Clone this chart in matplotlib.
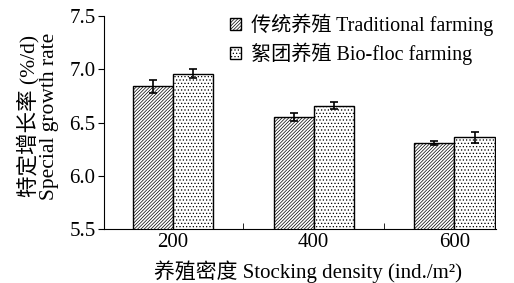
import matplotlib
matplotlib.use("Agg")
import matplotlib.pyplot as plt
import numpy as np

plt.rcParams['font.family'] = ['Liberation Serif', 'Noto Sans CJK SC']
plt.rcParams['hatch.linewidth'] = 0.5

categories = ["200", "400", "600"]
traditional = [6.84, 6.55, 6.31]
traditional_err = [0.06, 0.04, 0.02]
biofloc = [6.96, 6.66, 6.36]
biofloc_err = [0.04, 0.03, 0.05]
yticks = [5.5, 6.0, 6.5, 7.0, 7.5]

fig = plt.figure(figsize=(5.14, 2.83), dpi=100)
ax = fig.add_axes([0.202, 0.191, 0.763, 0.752])

x = np.arange(len(categories))
w = 0.285
ax.bar(x - w/2, traditional, w, yerr=traditional_err, color='white',
       edgecolor='black', linewidth=1.0, hatch='//////////', capsize=3,
       error_kw=dict(elinewidth=1.2, capthick=1.2), label='传统养殖 Traditional farming')
ax.bar(x + w/2, biofloc, w, yerr=biofloc_err, color='white',
       edgecolor='black', linewidth=1.0, hatch='.....', capsize=3,
       error_kw=dict(elinewidth=1.2, capthick=1.2), label='絮团养殖 Bio-floc farming')

ax.set_ylim(5.5, 7.5)
ax.set_xlim(-0.49, 2.295)
ax.set_yticks(yticks)
ax.set_yticklabels([f"{v:.1f}" for v in yticks], fontsize=15)
ax.set_xticks(x)
ax.set_xticklabels(categories, fontsize=15)
ax.tick_params(axis='x', length=0, pad=3)
ax.set_xticks([0.5, 1.5], minor=True)
ax.tick_params(axis='x', which='minor', direction='in', length=4)
ax.tick_params(axis='y', direction='out', length=4, pad=2)
for s in ['top', 'right']:
    ax.spines[s].set_visible(False)

ax.set_ylabel('特定增长率 (%/d)\nSpecial growth rate', fontsize=15.5, linespacing=1.05)
ax.yaxis.set_label_coords(-0.115, 0.53)
ax.set_xlabel('养殖密度 Stocking density (ind./m²)', fontsize=15)
ax.xaxis.set_label_coords(0.52, -0.15)

leg = ax.legend(loc='upper left', bbox_to_anchor=(0.30, 1.05), frameon=False,
                fontsize=14.5, handlelength=0.55, handleheight=0.55, handletextpad=0.5,
                labelspacing=0.35, borderaxespad=0)

fig.savefig('out.png', dpi=100)
